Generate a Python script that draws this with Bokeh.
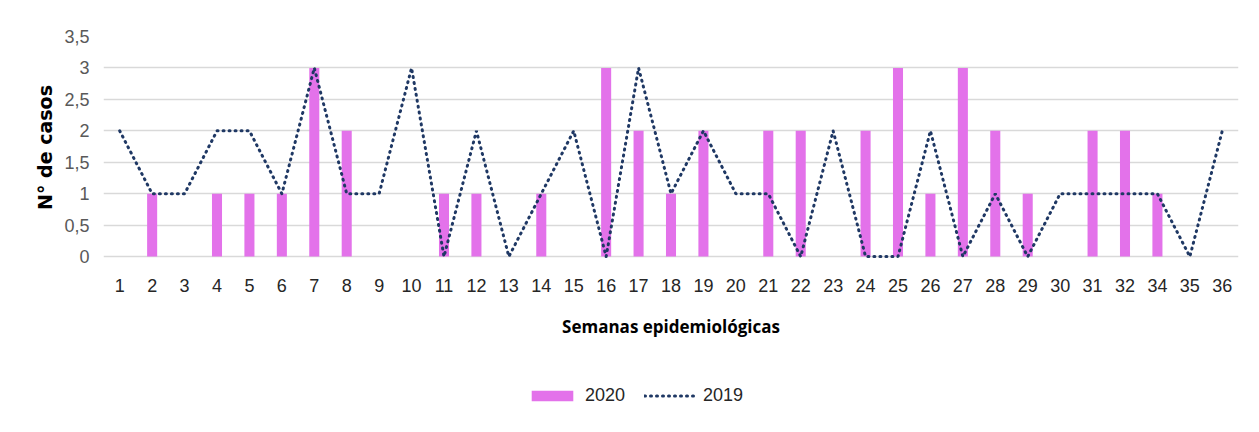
from bokeh.plotting import figure
from bokeh.layouts import column
from bokeh.models import ColumnDataSource, FactorRange, Range1d, FixedTicker, Legend, LegendItem
from bokeh.embed import file_html
from bokeh.resources import INLINE

weeks = [str(i) for i in range(1, 33)] + ["34", "35", "36"]
cases_2020 = [0, 1, 0, 1, 1, 1, 3, 2, 0, 0, 1, 1, 0, 1, 0, 3, 2, 1, 2, 0,
              2, 2, 0, 2, 3, 1, 3, 2, 1, 0, 2, 2, 1, 0, 0]
cases_2019 = [2, 1, 1, 2, 2, 1, 3, 1, 1, 3, 0, 2, 0, 1, 2, 0, 3, 1, 2, 1,
              1, 0, 2, 0, 0, 2, 0, 1, 0, 1, 1, 1, 1, 0, 2]
y_ticks = [0, 0.5, 1, 1.5, 2, 2.5, 3, 3.5]
y_tick_labels = ["0", "0,5", "1", "1,5", "2", "2,5", "3", "3,5"]
series_names = ["2020", "2019"]
x_title = "Semanas epidemiológicas"
y_title = "N° de casos"

TICKFONT = "Liberation Sans"
BAR_COLOR = "#E372EA"
LINE_COLOR = "#1F3864"

src = ColumnDataSource(dict(week=weeks, c2020=cases_2020, c2019=cases_2019))
xr = FactorRange(*weeks)

p = figure(width=1243, height=360, x_range=xr,
           y_range=Range1d(-0.03, 3.5), output_backend="svg",
           toolbar_location=None, min_border_left=103, min_border_right=5,
           min_border_top=36, min_border_bottom=102)
p.outline_line_color = None
p.background_fill_color = "white"
p.border_fill_color = "white"

bars = p.vbar(x="week", top="c2020", width=0.31, source=src,
              fill_color=BAR_COLOR, line_color=None)
line = p.line(x="week", y="c2019", source=src, line_color=LINE_COLOR,
              line_width=3, line_dash="1 5", line_cap="round")

p.xgrid.grid_line_color = None
p.ygrid.grid_line_color = "#D9D9D9"
p.ygrid.grid_line_width = 1.5
p.yaxis.ticker = FixedTicker(ticks=y_ticks)
p.yaxis.major_label_overrides = {t: l for t, l in zip(y_ticks, y_tick_labels)}

for ax in (p.xaxis[0], p.yaxis[0]):
    ax.axis_line_color = None
    ax.major_tick_line_color = None
    ax.minor_tick_line_color = None
    ax.major_tick_out = 0
    ax.major_tick_in = 0
    ax.major_label_text_font = TICKFONT
    ax.major_label_text_font_size = "18px"
    ax.axis_label_text_font_style = "bold"
    ax.axis_label_text_color = "black"

p.yaxis.major_label_text_color = "#595959"
p.yaxis.major_label_standoff = 14
p.yaxis.axis_label = y_title
p.yaxis.axis_label_text_font = "DejaVu Sans"
p.yaxis.axis_label_text_font_size = "19px"
p.yaxis.axis_label_standoff = 5

p.xaxis.major_label_text_color = "#262626"
p.xaxis.major_label_standoff = 20
p.xaxis.axis_label = x_title
p.xaxis.axis_label_text_font = "Open Sans"
p.xaxis.axis_label_text_font_size = "17px"
p.xaxis.axis_label_standoff = 20

# legend strip below the chart (series drawn out of view, only the legend shows)
lg = figure(width=1243, height=56, x_range=xr, y_range=Range1d(100, 101),
            output_backend="svg", toolbar_location=None,
            x_axis_location=None, y_axis_location=None,
            min_border_left=0, min_border_right=0, min_border_top=0, min_border_bottom=0)
lg.outline_line_color = None
lg.xgrid.grid_line_color = None
lg.ygrid.grid_line_color = None
lg_bar = lg.vbar(x="week", top="c2020", width=0.31, source=src,
                 fill_color=BAR_COLOR, line_color=None)
lg_line = lg.line(x="week", y="c2019", source=src, line_color=LINE_COLOR,
                  line_width=3, line_dash="1 5", line_cap="round")
legend = Legend(items=[LegendItem(label=series_names[0], renderers=[lg_bar]),
                       LegendItem(label=series_names[1], renderers=[lg_line])],
                orientation="horizontal", location=(423, 10),
                glyph_width=52, glyph_height=13, label_standoff=7, spacing=19,
                padding=0, margin=0, border_line_color=None,
                background_fill_alpha=0, label_text_font=TICKFONT,
                label_text_font_size="18px", label_text_color="#262626")
lg.add_layout(legend, "center")

open("out.html", "w").write(file_html(column(p, lg, spacing=0), INLINE))
